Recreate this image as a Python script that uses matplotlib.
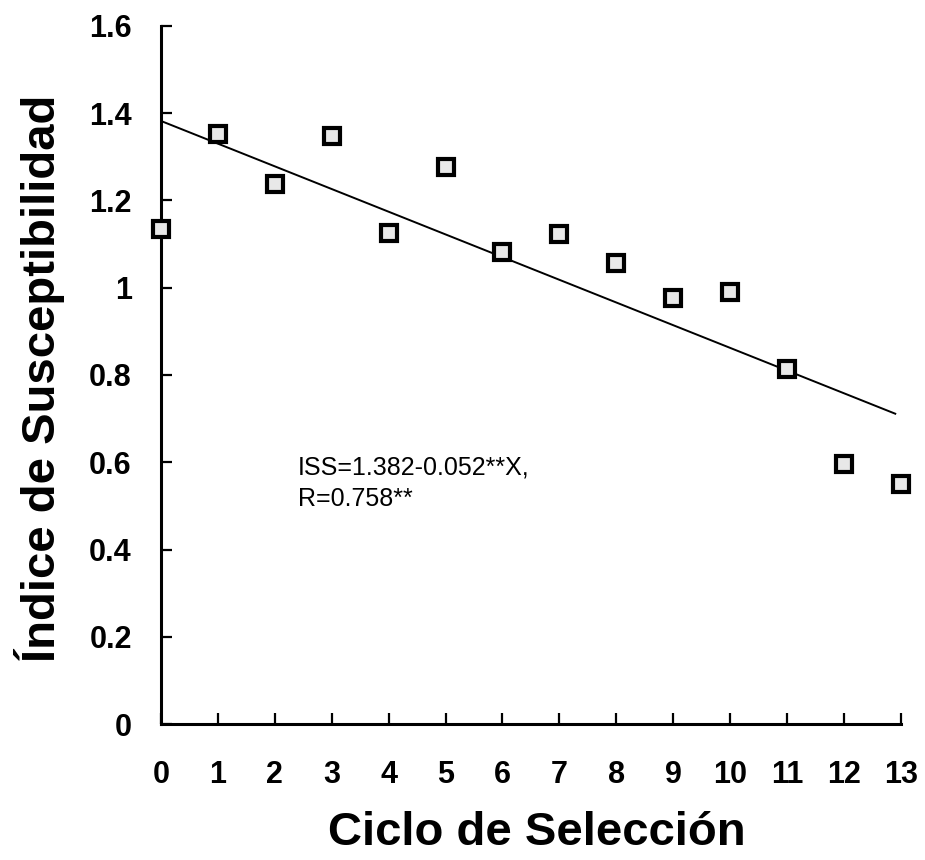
import numpy as np
import matplotlib
matplotlib.use("Agg")
import matplotlib.pyplot as plt

plt.rcParams['font.family'] = ['Liberation Sans', 'DejaVu Sans']

# data
ciclo = [0, 1, 2, 3, 4, 5, 6, 7, 8, 9, 10, 11, 12, 13]
indice = [1.135, 1.351, 1.238, 1.347, 1.125, 1.276, 1.081, 1.123,
          1.056, 0.977, 0.989, 0.813, 0.595, 0.550]

# fitted line as printed on the chart
intercepto = 1.382
pendiente = -0.052
linea_x = [0, 12.9]

y_ticks = [0, 0.2, 0.4, 0.6, 0.8, 1.0, 1.2, 1.4, 1.6]
y_tick_labels = ['0', '0.2', '0.4', '0.6', '0.8', '1', '1.2', '1.4', '1.6']
x_ticks = list(range(0, 14))

fig = plt.figure(figsize=(9.25, 8.6), dpi=100)
ax = fig.add_axes([0.174, 0.158, 0.8, 0.812])

lx = np.array(linea_x)
ax.plot(lx, intercepto + pendiente * lx, color='black', lw=1.4, zorder=2)

ax.plot(ciclo, indice, linestyle='none', marker='s', markersize=11.5,
        markerfacecolor='#e8e8e8', markeredgecolor='black',
        markeredgewidth=3.0, clip_on=False, zorder=3)

ax.set_xlim(0, 13)
ax.set_ylim(0, 1.6)
ax.set_xticks(x_ticks)
ax.set_xticklabels([str(v) for v in x_ticks])
ax.set_yticks(y_ticks)
ax.set_yticklabels(y_tick_labels)

for s in ['top', 'right']:
    ax.spines[s].set_visible(False)
for s in ['left', 'bottom']:
    ax.spines[s].set_linewidth(2.2)

ax.tick_params(axis='both', direction='in', length=8, width=1.6,
               labelsize=22)
ax.tick_params(axis='x', pad=26)
ax.tick_params(axis='y', pad=21)
for lab in ax.get_xticklabels() + ax.get_yticklabels():
    lab.set_fontweight('bold')

ax.text(2.4, 0.571, 'ISS=1.382-0.052**X,', fontsize=18, va='baseline')
ax.text(2.4, 0.500, 'R=0.758**', fontsize=18, va='baseline')

fig.text(0.58, 0.0174, 'Ciclo de Selección', fontsize=34, fontweight='bold',
         ha='center', va='baseline')
fig.text(0.0595, 0.5605, 'Índice de Susceptibilidad', fontsize=34,
         fontweight='bold', ha='center', va='baseline', rotation=90,
         rotation_mode='anchor')

fig.savefig('out.png', dpi=100)
